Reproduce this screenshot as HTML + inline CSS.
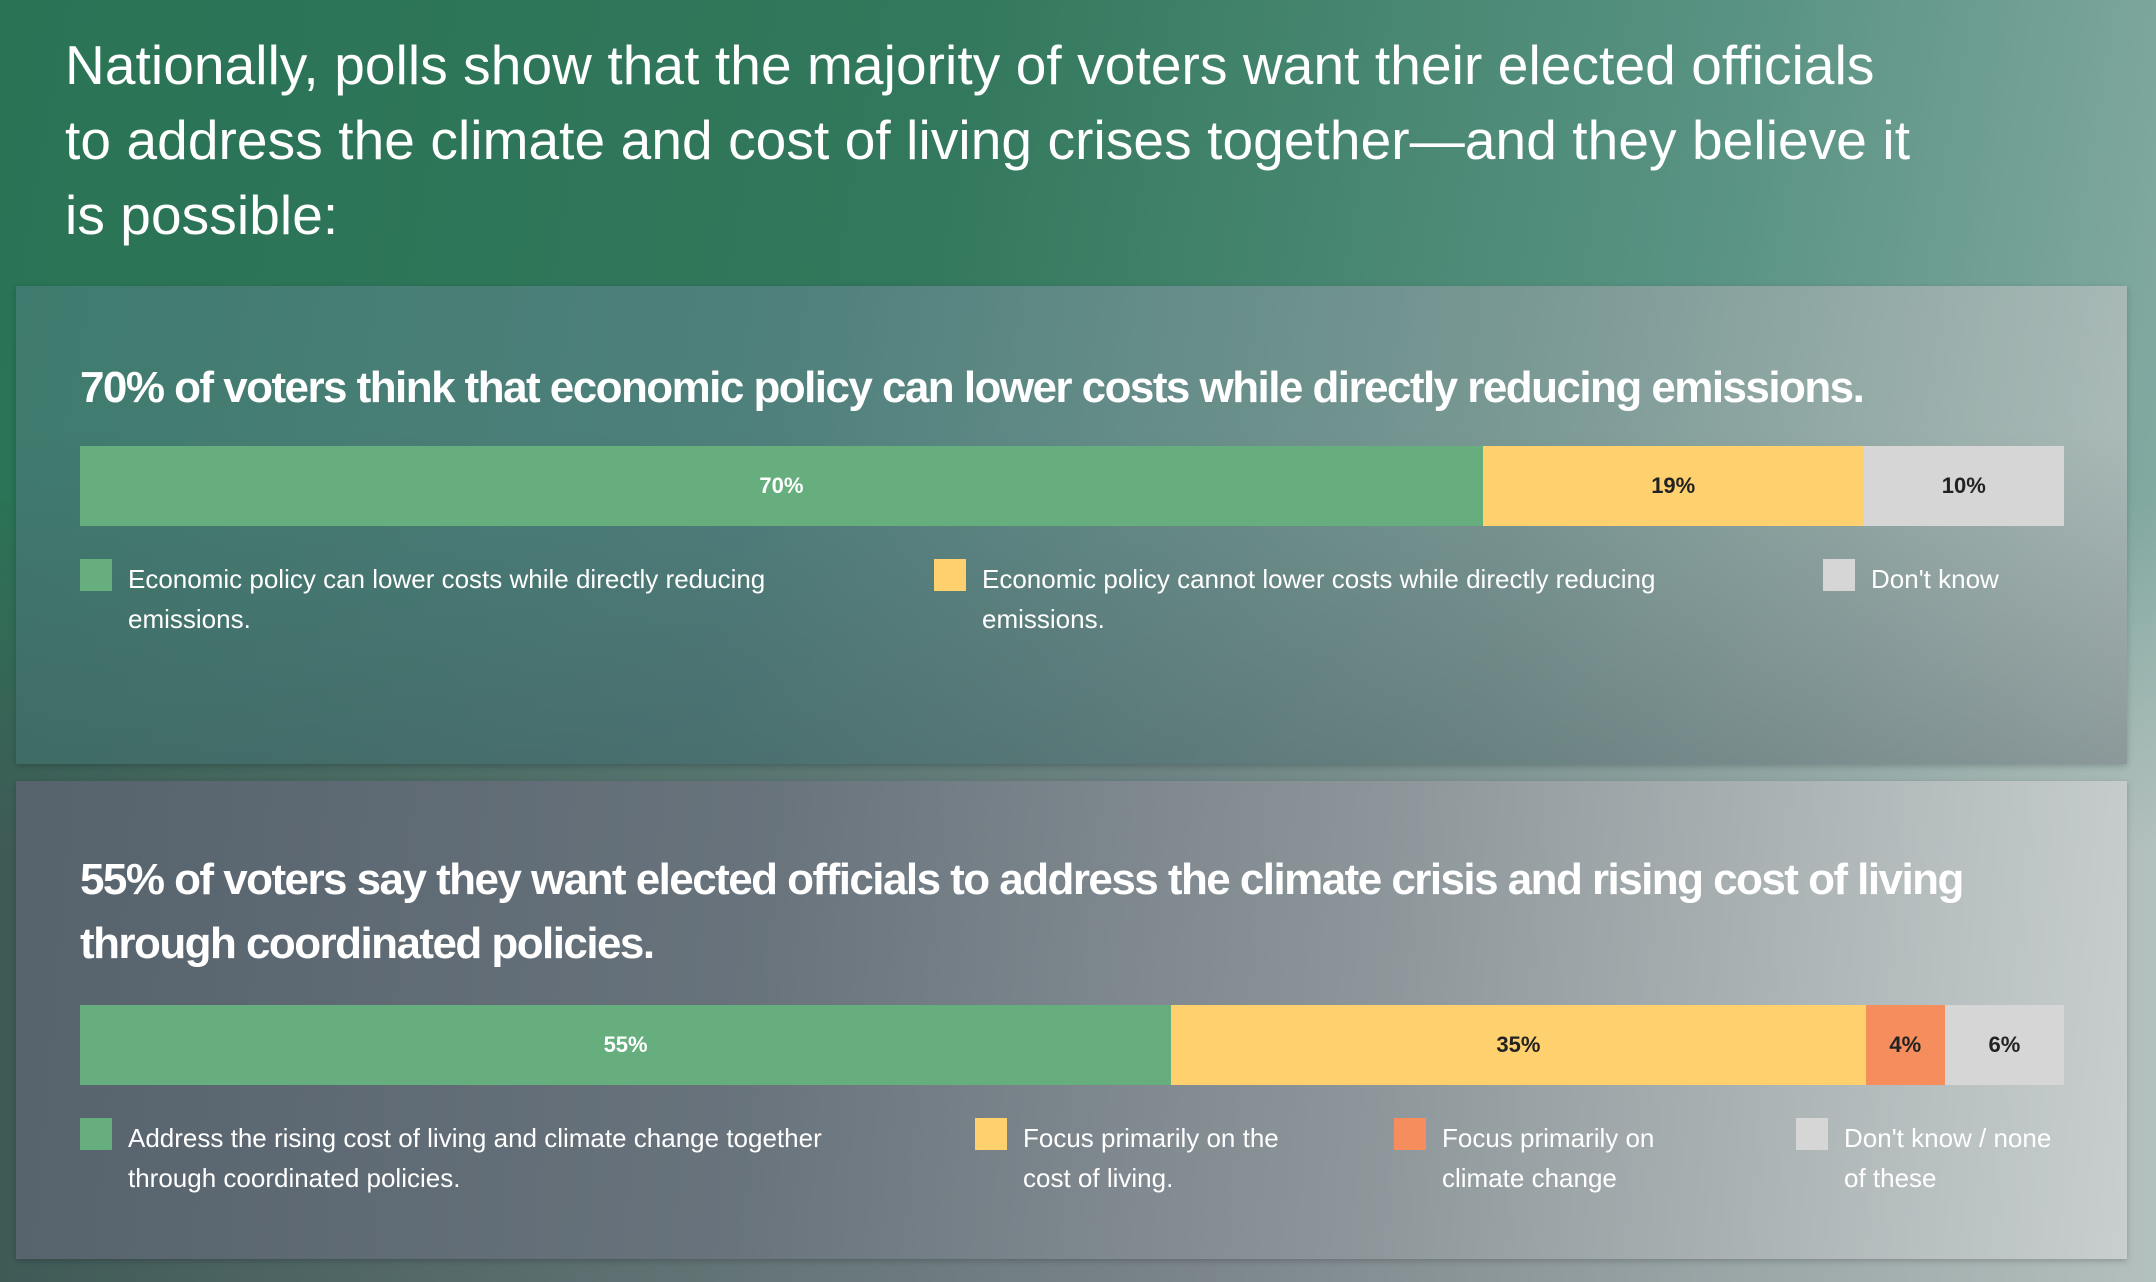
<!DOCTYPE html>
<html><head><meta charset="utf-8">
<style>
*{margin:0;padding:0;box-sizing:border-box}
body{width:2156px;height:1282px;overflow:hidden;font-family:"Liberation Sans Narrow","Liberation Sans",sans-serif;color:#fff;
background:linear-gradient(100deg,#2a7355 0%,#32785c 40%,#5b9485 75%,#8fb0aa 100%);position:relative}
.shade{position:absolute;left:0;right:0;top:500px;bottom:0;background:linear-gradient(90deg,#3f5a56,#7a848a 55%,#b3c0bd);
-webkit-mask-image:linear-gradient(180deg,transparent 0%,#000 45%);mask-image:linear-gradient(180deg,transparent 0%,#000 45%)}
h1{position:absolute;left:65px;top:28px;font-size:55px;font-weight:normal;line-height:75px;width:1862px;letter-spacing:0.1px}
.panel{position:absolute;left:16px;width:2111px;box-shadow:0 2px 6px rgba(0,0,0,0.2)}
.panel h2{position:absolute;left:64px;font-size:44px;font-weight:bold;line-height:64px;width:2020px;letter-spacing:-1.55px}
.bar{position:absolute;left:64px;width:1984px;height:80px;display:flex}
.seg{height:100%;display:flex;align-items:center;justify-content:center;font-size:22px;font-weight:bold}
.leg{position:absolute;display:flex;font-size:26px;line-height:40px;letter-spacing:0}
.sw{width:32px;height:32px;margin-right:16px;flex:none}
</style></head><body>
<div class="shade"></div>
<h1>Nationally, polls show that the majority of voters want their elected officials to address the climate and cost of living crises together—and they believe it is possible:</h1>
<div class="panel" style="top:286px;height:478px;background:linear-gradient(100deg,#3f7b6e 0%,#4f807c 35%,#7b9995 70%,#aebdba 100%)">
<div style="position:absolute;inset:0;background:linear-gradient(180deg,rgba(60,70,80,0) 30%,rgba(60,70,80,0.3) 100%)"></div>
<h2 style="top:70px">70% of voters think that economic policy can lower costs while directly reducing emissions.</h2>
<div class="bar" id="bar1" style="top:160px"></div>
<div id="leg1"></div>
</div>
<div class="panel" style="top:781px;height:478px;background:linear-gradient(95deg,#56626c 0%,#68737c 35%,#8e979b 65%,#c8cfce 100%)">
<h2 style="top:67px">55% of voters say they want elected officials to address the climate crisis and rising cost of living through coordinated policies.</h2>
<div class="bar" id="bar2" style="top:224px"></div>
<div id="leg2"></div>
</div>
<script>
const cats1=["Economic policy can lower costs while directly reducing emissions.","Economic policy cannot lower costs while directly reducing emissions.","Don't know"];
const vals1=[70,19,10];
const cats2=["Address the rising cost of living and climate change together through coordinated policies.","Focus primarily on the cost of living.","Focus primarily on climate change","Don't know / none of these"];
const vals2=[55,35,4,6];
const colors1=["#67ae7e","#fed06e","#d6d6d6"];
const colors2=["#67ae7e","#fed06e","#f58d5c","#d6d6d6"];
function draw(barId,legId,cats,vals,cols,legX,legW,legTop){
  const bar=document.getElementById(barId);
  const total=vals.reduce((a,b)=>a+b,0);
  vals.forEach((v,i)=>{
    const s=document.createElement('div');
    s.className='seg';
    
    
    s.style.width=(v/total*100)+'%';
    s.style.background=cols[i];
    s.style.color=i===0?'#fff':'#222';
    s.textContent=v+'%';
    bar.appendChild(s);
  });
  const leg=document.getElementById(legId);
  cats.forEach((c,i)=>{
    const e=document.createElement('div');
    e.className='leg';
    
    
    e.style.left=legX[i]+'px';e.style.top=legTop+'px';e.style.width=legW[i]+'px';
    const sw=document.createElement('div');sw.className='sw';sw.style.background=cols[i];
    const t=document.createElement('div');t.textContent=c;
    e.appendChild(sw);e.appendChild(t);leg.appendChild(e);
  });
}
draw('bar1','leg1',cats1,vals1,colors1,[64,918,1807],[760,760,300],273);
draw('bar2','leg2',cats2,vals2,colors2,[64,959,1378,1780],[780,330,330,270],337);
</script>
</body></html>
